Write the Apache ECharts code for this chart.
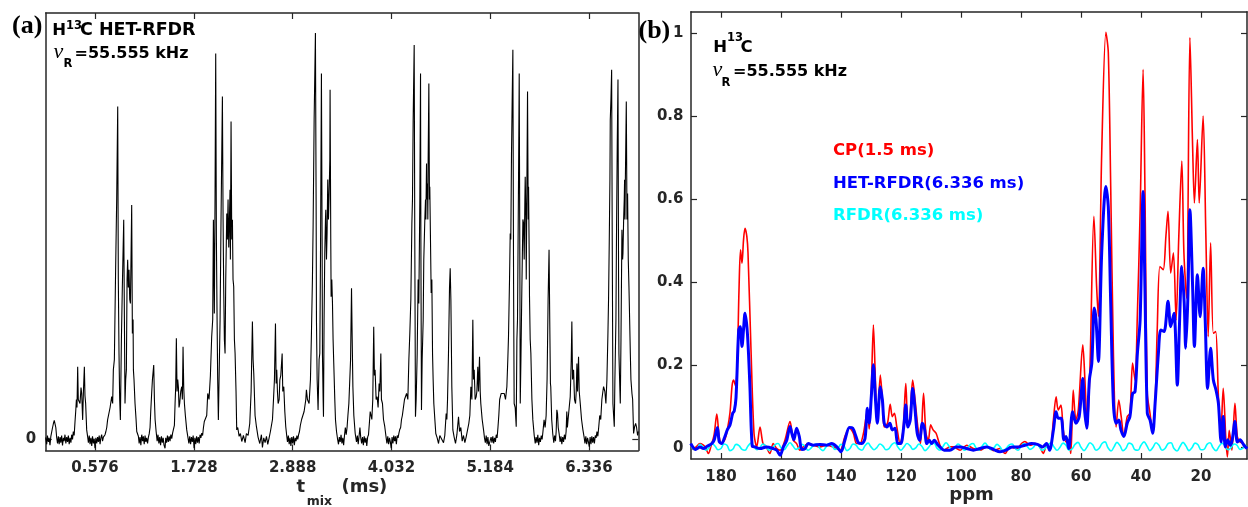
<!DOCTYPE html>
<html>
<head>
<meta charset="utf-8">
<script src="https://cdn.jsdelivr.net/npm/echarts@6/dist/echarts.min.js"></script>
<style>
html,body{margin:0;padding:0;background:#ffffff;}
#chart{width:1248px;height:507px;}
</style>
</head>
<body>
<div id="chart"></div>
<script>
// ---------- Panel (a): HET-RFDR mixing-time signal ----------
const tmixMs = [
0.000,0.012,0.020,0.031,0.040,0.050,0.060,0.070,0.080,0.090,
0.100,0.109,0.118,0.128,0.138,0.147,0.157,0.167,0.176,0.186,
0.196,0.206,0.215,0.225,0.235,0.245,0.255,0.264,0.274,0.284,
0.294,0.303,0.313,0.322,0.332,0.342,0.350,0.358,0.365,0.373,
0.380,0.400,0.412,0.420,0.431,0.440,0.451,0.458,0.466,0.478,
0.490,0.498,0.508,0.517,0.527,0.537,0.546,0.556,0.566,0.575,
0.585,0.595,0.605,0.614,0.624,0.634,0.643,0.653,0.663,0.673,
0.682,0.692,0.702,0.712,0.722,0.731,0.751,0.770,0.781,0.789,
0.801,0.816,0.828,0.840,0.847,0.855,0.863,0.871,0.883,0.894,
0.910,0.918,0.925,0.933,0.941,0.949,0.956,0.964,0.972,0.980,
0.988,0.995,1.003,1.011,1.019,1.023,1.030,1.042,1.054,1.062,
1.081,1.090,1.100,1.110,1.120,1.130,1.139,1.149,1.159,1.168,
1.178,1.188,1.198,1.207,1.217,1.225,1.237,1.245,1.260,1.268,
1.276,1.288,1.300,1.310,1.320,1.330,1.340,1.350,1.360,1.370,
1.380,1.392,1.400,1.410,1.420,1.430,1.440,1.450,1.460,1.470,
1.480,1.490,1.501,1.509,1.516,1.524,1.532,1.540,1.548,1.555,
1.563,1.575,1.587,1.594,1.602,1.610,1.618,1.629,1.645,1.660,
1.670,1.680,1.690,1.700,1.710,1.720,1.731,1.740,1.750,1.760,
1.770,1.780,1.790,1.800,1.810,1.820,1.830,1.840,1.850,1.878,
1.890,1.905,1.921,1.936,1.948,1.956,1.967,1.975,1.983,1.991,
1.999,2.006,2.014,2.022,2.034,2.045,2.061,2.069,2.076,2.084,
2.092,2.100,2.112,2.119,2.127,2.135,2.143,2.150,2.154,2.162,
2.170,2.178,2.185,2.193,2.201,2.209,2.220,2.228,2.240,2.256,
2.271,2.287,2.306,2.326,2.341,2.361,2.380,2.396,2.411,2.419,
2.427,2.442,2.458,2.477,2.497,2.516,2.528,2.543,2.559,2.575,
2.590,2.606,2.621,2.633,2.645,2.657,2.668,2.680,2.688,2.695,
2.703,2.711,2.723,2.731,2.742,2.758,2.765,2.777,2.789,2.800,
2.812,2.820,2.830,2.840,2.850,2.860,2.870,2.880,2.890,2.900,
2.910,2.920,2.930,2.940,2.950,2.960,2.970,2.985,3.014,3.034,
3.041,3.053,3.072,3.088,3.100,3.111,3.119,3.131,3.146,3.154,
3.158,3.166,3.177,3.189,3.197,3.205,3.216,3.224,3.228,3.236,
3.240,3.247,3.255,3.263,3.267,3.275,3.282,3.290,3.294,3.298,
3.306,3.314,3.317,3.325,3.329,3.337,3.345,3.352,3.360,3.372,
3.380,3.392,3.403,3.415,3.425,3.435,3.445,3.455,3.465,3.475,
3.485,3.495,3.505,3.515,3.525,3.536,3.548,3.556,3.567,3.575,
3.583,3.594,3.610,3.625,3.635,3.645,3.655,3.665,3.675,3.685,
3.695,3.705,3.715,3.725,3.735,3.745,3.755,3.765,3.775,3.785,
3.804,3.815,3.826,3.834,3.842,3.854,3.866,3.877,3.889,3.897,
3.909,3.916,3.928,3.940,3.955,3.970,3.980,3.990,4.000,4.010,
4.020,4.030,4.040,4.050,4.060,4.070,4.080,4.090,4.100,4.110,
4.120,4.130,4.140,4.150,4.160,4.185,4.209,4.224,4.236,4.247,
4.259,4.271,4.278,4.286,4.298,4.305,4.313,4.321,4.333,4.344,
4.352,4.364,4.372,4.376,4.383,4.391,4.403,4.410,4.422,4.430,
4.434,4.442,4.445,4.453,4.457,4.461,4.469,4.476,4.480,4.488,
4.496,4.504,4.512,4.519,4.527,4.539,4.550,4.566,4.582,4.597,
4.620,4.640,4.655,4.671,4.679,4.687,4.698,4.710,4.718,4.726,
4.737,4.749,4.764,4.780,4.796,4.815,4.827,4.842,4.858,4.873,
4.889,4.904,4.920,4.935,4.947,4.959,4.971,4.982,4.990,4.998,
5.009,5.021,5.029,5.040,5.048,5.060,5.068,5.075,5.091,5.107,
5.118,5.128,5.138,5.148,5.158,5.168,5.184,5.195,5.205,5.215,
5.225,5.235,5.245,5.255,5.265,5.275,5.285,5.295,5.313,5.332,
5.348,5.363,5.379,5.390,5.398,5.410,5.418,5.425,5.433,5.441,
5.449,5.457,5.464,5.476,5.488,5.496,5.503,5.515,5.523,5.531,
5.535,5.543,5.554,5.566,5.574,5.581,5.589,5.593,5.601,5.605,
5.613,5.620,5.628,5.632,5.640,5.643,5.651,5.659,5.671,5.682,
5.698,5.710,5.720,5.730,5.740,5.750,5.760,5.770,5.780,5.790,
5.800,5.813,5.825,5.837,5.848,5.852,5.860,5.871,5.879,5.887,
5.891,5.902,5.914,5.926,5.936,5.946,5.954,5.962,5.970,5.978,
5.990,6.000,6.010,6.020,6.030,6.040,6.050,6.060,6.070,6.078,
6.085,6.093,6.106,6.118,6.130,6.137,6.145,6.157,6.168,6.180,
6.188,6.196,6.203,6.215,6.223,6.235,6.250,6.266,6.280,6.290,
6.300,6.310,6.320,6.330,6.340,6.350,6.360,6.370,6.380,6.390,
6.400,6.410,6.420,6.430,6.440,6.450,6.462,6.474,6.487,6.499,
6.507,6.522,6.534,6.546,6.557,6.565,6.573,6.581,6.585,6.593,
6.601,6.608,6.616,6.624,6.632,6.639,6.651,6.659,6.667,6.675,
6.682,6.686,6.694,6.702,6.710,6.721,6.729,6.733,6.741,6.748,
6.752,6.756,6.760,6.764,6.772,6.780,6.787,6.795,6.803,6.811,
6.819,6.826,6.838,6.846,6.857,6.869,6.881,6.892,6.904,6.912
];
const hetSignal = [
0.005,-0.012,0.010,-0.006,0.004,-0.014,0.008,0.012,0.030,0.040,
0.048,0.052,0.030,0.005,-0.010,0.008,-0.012,0.006,-0.008,0.010,
-0.015,0.004,-0.004,0.012,-0.010,0.006,-0.006,0.010,-0.012,0.004,
-0.008,0.012,0.000,0.020,0.010,0.045,0.070,0.100,0.080,0.182,
0.100,0.090,0.130,0.115,0.049,0.120,0.182,0.110,0.090,0.024,
0.006,-0.008,0.010,-0.012,0.004,-0.016,0.008,-0.010,0.002,-0.022,
0.004,-0.010,0.006,-0.006,0.010,-0.012,0.004,0.012,-0.004,0.006,
0.004,0.012,0.020,0.030,0.049,0.049,0.080,0.107,0.090,0.174,
0.200,0.432,0.600,0.832,0.400,0.215,0.100,0.049,0.250,0.382,
0.549,0.300,0.090,0.150,0.174,0.400,0.449,0.380,0.424,0.350,
0.340,0.450,0.586,0.265,0.300,0.174,0.150,0.090,0.050,0.020,
0.008,-0.010,0.006,-0.014,0.012,-0.004,0.008,-0.012,0.010,-0.006,
0.004,-0.010,0.006,0.014,0.030,0.070,0.120,0.150,0.186,0.100,
0.050,0.020,-0.004,0.012,-0.010,0.006,-0.014,0.008,-0.008,0.004,
-0.014,-0.022,0.004,-0.008,0.010,-0.006,0.008,-0.004,0.012,0.002,
0.016,0.025,0.035,0.090,0.130,0.253,0.120,0.150,0.130,0.080,
0.090,0.120,0.132,0.100,0.232,0.130,0.090,0.060,0.024,0.004,
-0.010,0.008,-0.012,0.006,-0.006,0.010,-0.022,0.004,-0.012,0.008,
-0.008,0.006,-0.010,0.012,0.004,0.016,0.010,0.030,0.045,0.060,
0.115,0.100,0.160,0.257,0.300,0.549,0.315,0.600,0.965,0.500,
0.299,0.150,0.049,0.150,0.299,0.550,0.857,0.550,0.382,0.250,
0.215,0.400,0.565,0.500,0.600,0.480,0.550,0.624,0.450,0.795,
0.500,0.549,0.400,0.382,0.250,0.215,0.120,0.024,0.030,0.008,
0.015,-0.005,0.010,-0.008,0.015,0.010,0.040,0.120,0.295,0.200,
0.165,0.060,0.032,0.006,-0.010,0.012,-0.020,0.004,-0.008,0.008,
-0.012,0.004,0.020,0.035,0.050,0.100,0.150,0.290,0.140,0.174,
0.120,0.090,0.100,0.149,0.160,0.215,0.120,0.132,0.070,0.032,
0.008,-0.006,0.010,-0.012,0.004,-0.016,0.006,-0.010,0.008,-0.014,
0.004,-0.004,0.010,0.000,0.012,0.020,0.035,0.050,0.070,0.100,
0.124,0.100,0.090,0.150,0.270,0.400,0.532,0.799,1.016,0.600,
0.299,0.150,0.074,0.200,0.215,0.450,0.915,0.500,0.215,0.100,
0.057,0.300,0.465,0.550,0.574,0.450,0.515,0.650,0.649,0.550,
0.615,0.700,0.874,0.500,0.357,0.400,0.340,0.250,0.190,0.100,
0.049,0.020,0.003,-0.012,0.006,-0.006,0.012,-0.010,0.004,-0.014,
0.010,0.030,0.012,0.030,0.060,0.090,0.090,0.200,0.378,0.250,
0.132,0.060,0.015,-0.006,0.010,-0.012,0.008,0.030,0.004,-0.010,
0.006,-0.014,0.008,-0.008,0.004,-0.016,0.006,0.012,0.040,0.070,
0.050,0.100,0.282,0.160,0.174,0.100,0.107,0.080,0.140,0.120,
0.215,0.100,0.090,0.050,0.032,0.006,-0.010,0.008,-0.012,0.004,
-0.006,-0.022,0.006,-0.010,0.010,-0.004,0.008,-0.012,0.010,0.004,
0.016,0.025,0.030,0.050,0.060,0.100,0.115,0.100,0.200,0.265,
0.350,0.540,0.600,0.799,0.986,0.500,0.057,0.100,0.215,0.400,
0.340,0.600,0.915,0.500,0.074,0.200,0.299,0.450,0.549,0.600,
0.550,0.690,0.600,0.640,0.550,0.700,0.890,0.600,0.632,0.500,
0.366,0.400,0.215,0.150,0.090,0.050,0.015,0.004,-0.010,0.010,
0.008,-0.008,0.010,0.065,0.050,0.100,0.215,0.380,0.428,0.350,
0.132,0.024,0.006,-0.010,0.012,0.057,0.020,0.030,-0.004,0.010,
-0.008,0.006,0.010,0.040,0.060,0.132,0.100,0.299,0.150,0.174,
0.100,0.107,0.120,0.182,0.120,0.207,0.120,0.090,0.050,0.024,
0.004,-0.008,0.010,-0.012,0.006,-0.016,-0.018,0.006,-0.008,0.008,
-0.010,0.004,-0.006,0.012,0.004,0.030,0.060,0.100,0.115,0.115,
0.115,0.100,0.132,0.200,0.257,0.400,0.515,0.500,0.715,0.850,
0.974,0.400,0.090,0.080,0.032,0.250,0.299,0.650,0.915,0.400,
0.090,0.200,0.382,0.550,0.540,0.450,0.600,0.657,0.550,0.400,
0.650,0.870,0.550,0.632,0.450,0.357,0.250,0.215,0.100,0.049,
0.010,-0.010,0.006,-0.008,0.012,-0.014,0.004,-0.006,0.010,0.000,
0.020,0.049,0.030,0.060,0.150,0.215,0.350,0.474,0.300,0.140,
0.132,0.050,0.015,-0.008,0.010,-0.004,0.020,0.074,0.065,0.030,
0.012,-0.006,0.008,-0.012,0.006,-0.006,0.012,0.000,0.020,0.070,
0.030,0.050,0.080,0.107,0.200,0.295,0.150,0.174,0.100,0.090,
0.120,0.190,0.120,0.207,0.120,0.090,0.050,0.024,0.006,-0.010,
0.008,-0.012,0.004,-0.006,-0.018,0.006,-0.012,0.008,-0.008,0.006,
-0.010,0.010,0.004,0.020,0.008,0.030,0.060,0.050,0.100,0.120,
0.132,0.120,0.090,0.150,0.257,0.350,0.490,0.650,0.799,0.850,
0.924,0.500,0.090,0.060,0.032,0.150,0.299,0.550,0.750,0.900,
0.400,0.215,0.150,0.090,0.250,0.524,0.450,0.465,0.550,0.600,
0.649,0.550,0.632,0.700,0.845,0.550,0.615,0.450,0.382,0.300,
0.215,0.150,0.115,0.100,0.015,0.032,0.040,0.030,0.010,0.020
];
const tmixTicks = [0.576, 1.728, 2.880, 4.032, 5.184, 6.336];
const tmixTickLabels = ['0.576', '1.728', '2.888', '4.032', '5.184', '6.336'];

// ---------- Panel (b): 13C spectra ----------
const cpPpm = [
190.1,189.2,188.3,187.0,185.3,184.2,183.4,182.3,181.4,180.6,
179.8,178.7,177.9,177.0,176.3,175.8,175.2,174.6,174.0,173.5,
173.0,172.5,172.0,171.4,171.0,170.0,169.0,168.1,167.0,166.0,
165.0,163.7,162.6,161.4,160.3,158.7,157.0,155.9,154.8,153.7,
152.6,150.9,149.2,147.0,144.8,142.6,140.3,138.7,137.2,135.9,
134.8,133.7,132.5,131.2,130.6,130.0,129.2,128.5,127.9,126.9,
126.2,125.6,124.5,123.6,122.9,122.2,121.4,120.3,119.3,118.4,
117.7,117.1,116.1,115.3,114.4,113.5,112.5,111.7,110.9,110.1,
109.3,108.3,107.0,105.6,104.8,103.7,102.6,100.3,98.1,95.9,
93.7,91.4,89.2,87.0,85.3,83.7,81.4,79.8,78.7,77.0,
75.3,73.7,72.6,71.4,70.3,69.2,68.3,67.6,66.7,65.9,
65.0,64.2,63.4,62.6,61.7,60.9,59.4,58.7,57.9,57.0,
55.7,54.8,54.2,53.1,51.7,50.9,50.1,49.2,48.3,47.4,
46.6,45.7,44.6,43.7,42.8,42.0,41.2,40.3,39.3,38.7,
37.9,37.0,36.1,35.3,34.6,33.7,32.6,31.7,31.0,30.1,
29.2,28.3,27.4,26.4,25.7,24.8,23.7,22.8,22.2,21.2,
20.6,19.3,18.4,17.6,16.8,15.9,15.1,14.2,13.4,12.6,
11.7,11.2,10.6,9.7,8.7,7.9,7.0,5.9,4.8
];
const cpInt = [
0.007,-0.004,0.002,0.010,0.002,-0.014,0.002,0.031,0.081,0.027,
0.010,0.020,0.043,0.085,0.150,0.163,0.150,0.200,0.380,0.477,
0.445,0.500,0.529,0.510,0.470,0.236,0.035,0.002,0.050,0.010,
0.003,-0.014,0.010,-0.002,-0.006,0.018,0.063,0.018,0.010,-0.006,
0.002,0.010,0.006,0.002,0.006,0.002,-0.006,0.027,0.047,0.035,
0.010,0.010,0.035,0.090,0.045,0.115,0.296,0.155,0.059,0.175,
0.115,0.050,0.059,0.105,0.075,0.083,0.050,0.010,0.043,0.155,
0.059,0.067,0.163,0.115,0.050,0.010,0.131,0.035,0.018,0.055,
0.043,0.035,0.006,-0.006,-0.002,0.002,0.002,-0.006,0.006,-0.002,
-0.006,0.002,-0.007,-0.002,-0.014,0.002,-0.002,0.010,0.015,0.006,
0.010,0.002,-0.014,0.006,-0.004,0.067,0.123,0.091,0.103,0.042,
0.014,0.018,-0.014,0.139,0.067,0.091,0.248,0.164,0.047,0.196,
0.558,0.389,0.316,0.711,1.002,0.953,0.630,0.228,0.050,0.115,
0.075,0.027,0.075,0.083,0.204,0.163,0.325,0.566,0.912,0.630,
0.131,0.083,0.035,0.107,0.284,0.437,0.429,0.510,0.570,0.421,
0.470,0.308,0.510,0.691,0.470,0.360,0.989,0.727,0.590,0.743,
0.590,0.800,0.518,0.268,0.494,0.276,0.280,0.123,0.035,0.143,
0.019,-0.022,0.042,-0.006,0.107,0.027,0.014,0.010,-0.002
];
const hetPpm = [
190.1,188.5,187.0,185.9,184.5,183.1,182.3,181.2,180.6,179.8,
178.7,177.9,177.0,176.1,175.6,175.0,174.1,173.6,173.0,172.5,
172.0,171.2,170.4,169.6,168.7,167.0,164.8,162.6,161.4,160.3,
159.2,158.1,157.0,156.4,155.7,154.8,153.9,153.1,152.0,150.9,
149.2,147.0,144.8,143.1,141.4,140.0,138.7,137.2,136.1,135.0,
134.2,133.1,132.0,131.2,130.6,129.9,129.2,128.5,127.9,126.9,
126.2,125.6,124.7,123.7,122.9,122.0,121.1,120.1,119.1,118.4,
117.7,116.9,116.1,115.3,114.6,113.8,112.9,112.2,111.4,110.6,
109.8,108.9,107.6,105.6,103.7,101.7,100.3,98.1,95.9,93.7,
91.4,89.2,87.0,85.0,83.0,80.8,78.7,76.5,74.5,72.8,
71.5,70.5,69.2,68.3,67.6,66.6,65.7,65.0,64.1,62.8,
61.7,60.6,59.4,58.9,58.1,57.2,56.4,55.6,55.0,54.2,
53.1,51.7,50.9,50.1,49.2,48.3,47.4,46.7,45.7,44.6,
43.7,42.8,42.0,41.2,40.3,39.3,38.7,37.9,37.0,36.1,
35.3,34.2,33.4,32.3,31.0,30.1,29.0,27.9,27.2,26.4,
25.6,25.1,24.4,23.7,22.8,22.2,21.2,20.3,19.3,18.6,
17.8,16.8,15.9,15.0,14.2,13.3,12.6,11.9,11.1,10.3,
9.6,8.7,7.9,7.0,5.7,4.6
];
const hetInt = [
0.010,-0.004,0.002,-0.002,0.004,0.010,0.018,0.049,0.015,0.010,
0.027,0.043,0.055,0.083,0.088,0.120,0.284,0.292,0.244,0.284,
0.324,0.276,0.155,0.004,0.002,-0.002,0.002,-0.002,-0.006,-0.018,
0.002,0.018,0.051,0.035,0.019,0.047,0.027,-0.004,-0.002,0.010,
0.006,0.008,0.006,0.010,0.002,-0.010,0.018,0.049,0.047,0.027,
0.012,0.010,0.022,0.095,0.059,0.123,0.200,0.115,0.059,0.147,
0.115,0.059,0.050,0.059,0.043,0.047,0.010,0.010,0.050,0.103,
0.050,0.067,0.143,0.090,0.035,0.018,0.059,0.047,0.010,0.018,
0.010,0.018,0.006,-0.006,-0.006,0.002,0.002,-0.002,-0.006,-0.002,
0.002,-0.004,-0.010,-0.006,0.002,0.002,0.006,0.010,0.008,0.002,
0.010,-0.006,0.043,0.087,0.071,0.071,0.019,0.027,-0.002,0.087,
0.059,0.075,0.167,0.099,0.047,0.164,0.204,0.337,0.309,0.208,
0.471,0.630,0.581,0.348,0.107,0.059,0.067,0.043,0.027,0.059,
0.075,0.131,0.135,0.228,0.308,0.618,0.389,0.083,0.067,0.035,
0.107,0.228,0.284,0.280,0.353,0.292,0.324,0.151,0.292,0.437,
0.349,0.240,0.357,0.574,0.389,0.244,0.417,0.316,0.433,0.308,
0.143,0.240,0.164,0.139,0.107,0.014,0.075,0.002,0.019,0.006,
0.019,0.063,0.014,0.019,0.006,-0.002
];
const rfdrPpm = [
190,189,188,187,186,185,184,183,182,181,
180,179,178,177,176,175,174,173,172,171,
170,169,168,167,166,165,164,163,162,161,
160,159,158,157,156,155,154,153,152,151,
150,149,148,147,146,145,144,143,142,141,
140,139,138,137,136,135,134,133,132,131,
130,129,128,127,126,125,124,123,122,121,
120,119,118,117,116,115,114,113,112,111,
110,109,108,107,106,105,104,103,102,101,
100,99,98,97,96,95,94,93,92,91,
90,89,88,87,86,85,84,83,82,81,
80,79,78,77,76,75,74,73,72,71,
70,69,68,67,66,65,64,63,62,61,
60,59,58,57,56,55,54,53,52,51,
50,49,48,47,46,45,44,43,42,41,
40,39,38,37,36,35,34,33,32,31,
30,29,28,27,26,25,24,23,22,21,
20,19,18,17,16,15,14,13,12,11,
10,9,8,7,6,5
];
const rfdrInt = [
0.006,-0.004,-0.002,0.008,0.002,-0.006,0.000,0.010,0.004,-0.005,
-0.002,0.009,0.006,-0.007,-0.003,0.008,0.005,-0.004,-0.006,0.004,
0.011,0.002,-0.005,0.001,0.009,0.003,-0.006,-0.002,0.007,0.010,
0.000,-0.005,0.004,0.012,0.004,-0.004,0.000,0.008,0.003,-0.006,
-0.001,0.007,0.009,-0.002,-0.007,0.002,0.010,0.005,-0.004,-0.001,
0.008,0.004,-0.007,-0.002,0.009,0.006,-0.003,-0.006,0.005,0.011,
0.002,-0.005,0.001,0.009,0.004,-0.005,-0.002,0.008,0.012,0.001,
-0.006,0.002,0.010,0.005,-0.004,0.000,0.009,0.003,-0.007,-0.001,
0.008,0.011,-0.001,-0.006,0.003,0.012,0.004,-0.005,0.000,0.009,
0.004,-0.006,-0.002,0.007,0.010,0.000,-0.006,0.003,0.011,0.003,
-0.005,0.000,0.008,0.002,-0.007,-0.002,0.006,0.009,-0.001,-0.006,
0.003,0.010,0.004,-0.004,0.000,0.008,0.003,-0.006,-0.002,0.007,
0.012,0.002,-0.006,0.001,0.011,0.006,-0.006,-0.003,0.008,0.013,
0.001,-0.007,0.002,0.012,0.006,-0.006,-0.002,0.010,0.014,0.000,
-0.008,0.002,0.013,0.005,-0.007,-0.001,0.011,0.008,-0.005,-0.006,
0.006,0.014,0.004,-0.007,0.001,0.012,0.006,-0.006,-0.002,0.010,
0.012,-0.002,-0.008,0.003,0.013,0.004,-0.007,0.000,0.011,0.007,
-0.005,-0.004,0.008,0.012,0.000,-0.007,0.003,0.011,0.004,-0.005,
0.000,0.009,0.006,-0.004,-0.001,0.007
];
const ppmTicks = [20, 40, 60, 80, 100, 120, 140, 160, 180];
const intensityTicks = [0, 0.2, 0.4, 0.6, 0.8, 1];
const seriesNames = ['CP(1.5 ms)', 'HET-RFDR(6.336 ms)', 'RFDR(6.336 ms)'];
const seriesColors = ['#ff0000', '#0000ff', '#00ffff'];

// ---------- build ----------
const zip = (xs, ys) => xs.map((x, i) => [x, ys[i]]);
const FONT = 'DejaVu Sans';
const INK = '#262626';
const lineCfg = { show: true, onZero: false, lineStyle: { color: INK, width: 1.5 } };
const tickCfg = (vals) => ({ show: true, inside: true, length: 6, customValues: vals, lineStyle: { color: INK, width: 1.2 } });
const labelBase = { fontFamily: FONT, fontWeight: 'bold', fontSize: 15, color: INK };

function txt(x, base, text, size, o) {
  o = o || {};
  const fam = o.family || FONT;
  const k = fam.indexOf('Serif') >= 0 ? 0.338 : 0.346;
  return {
    type: 'text', x: x, y: base - k * size, silent: true, z: 100,
    style: {
      text: text, fill: o.color || '#000', fontSize: size, fontFamily: fam,
      fontWeight: o.weight || 'bold', fontStyle: o.italic ? 'italic' : 'normal',
      align: o.align || 'left', verticalAlign: 'middle'
    }
  };
}

const chart = echarts.init(document.getElementById('chart'), null, { renderer: 'canvas', width: 1248, height: 507 });

const option = {
  backgroundColor: '#ffffff',
  animation: false,
  grid: [
    { left: 45.7, right: 609.7, top: 13, bottom: 56.5 },
    { left: 691, right: 1, top: 11.7, bottom: 48 }
  ],
  xAxis: [
    { gridIndex: 0, type: 'value', position: 'bottom', min: 0, max: 6.912,
      axisLine: lineCfg, axisTick: tickCfg(tmixTicks), splitLine: { show: false },
      axisLabel: Object.assign({}, labelBase, { margin: 10, customValues: tmixTicks,
        formatter: function (v) {
          let best = 0;
          tmixTicks.forEach(function (t, i) { if (Math.abs(t - v) < Math.abs(tmixTicks[best] - v)) best = i; });
          return tmixTickLabels[best];
        } }) },
    { gridIndex: 0, type: 'value', position: 'top', min: 0, max: 6.912,
      axisLine: lineCfg, axisTick: tickCfg(tmixTicks), splitLine: { show: false }, axisLabel: { show: false } },
    { gridIndex: 1, type: 'value', position: 'bottom', inverse: true, min: 4.67, max: 190,
      axisLine: lineCfg, axisTick: tickCfg(ppmTicks), splitLine: { show: false },
      axisLabel: Object.assign({}, labelBase, { margin: 10.5, customValues: ppmTicks }) },
    { gridIndex: 1, type: 'value', position: 'top', inverse: true, min: 4.67, max: 190,
      axisLine: lineCfg, axisTick: tickCfg(ppmTicks), splitLine: { show: false }, axisLabel: { show: false } }
  ],
  yAxis: [
    { gridIndex: 0, type: 'value', position: 'left', min: -0.0275, max: 1.066,
      axisLine: lineCfg, axisTick: tickCfg([0]), splitLine: { show: false },
      axisLabel: Object.assign({}, labelBase, { margin: 9.5, customValues: [0] }) },
    { gridIndex: 0, type: 'value', position: 'right', min: -0.0275, max: 1.066,
      axisLine: lineCfg, axisTick: tickCfg([0]), splitLine: { show: false }, axisLabel: { show: false } },
    { gridIndex: 1, type: 'value', position: 'left', min: -0.0272, max: 1.0514,
      axisLine: lineCfg, axisTick: tickCfg(intensityTicks), splitLine: { show: false },
      axisLabel: Object.assign({}, labelBase, { margin: 7.5, customValues: intensityTicks }) },
    { gridIndex: 1, type: 'value', position: 'right', min: -0.0272, max: 1.0514,
      axisLine: lineCfg, axisTick: tickCfg(intensityTicks), splitLine: { show: false }, axisLabel: { show: false } }
  ],
  legend: {
    orient: 'vertical', left: 823, top: 137.5, icon: 'none', itemWidth: 0, itemHeight: 16, itemGap: 15.5,
    selectedMode: false,
    textStyle: { fontFamily: FONT, fontWeight: 'bold', fontSize: 16.5 },
    data: seriesNames.map(function (n, i) { return { name: n, textStyle: { color: seriesColors[i] } }; })
  },
  series: [
    { name: 'HET-RFDR build-up', type: 'line', xAxisIndex: 0, yAxisIndex: 0,
      data: zip(tmixMs, hetSignal), showSymbol: false, symbol: 'none', silent: true,
      lineStyle: { color: '#000000', width: 1.1 } },
    { name: seriesNames[0], type: 'line', xAxisIndex: 2, yAxisIndex: 2, color: seriesColors[0],
      data: zip(cpPpm, cpInt), showSymbol: false, symbol: 'none', smooth: 0.3, silent: true,
      lineStyle: { color: seriesColors[0], width: 1.6 } },
    { name: seriesNames[2], type: 'line', xAxisIndex: 2, yAxisIndex: 2, color: seriesColors[2],
      data: zip(rfdrPpm, rfdrInt), showSymbol: false, symbol: 'none', smooth: 0.4, silent: true,
      lineStyle: { color: seriesColors[2], width: 1.6 } },
    { name: seriesNames[1], type: 'line', xAxisIndex: 2, yAxisIndex: 2, color: seriesColors[1],
      data: zip(hetPpm, hetInt), showSymbol: false, symbol: 'none', smooth: 0.3, silent: true,
      lineStyle: { color: seriesColors[1], width: 3 } }
  ],
  graphic: [
    // panel (a) annotations
    txt(12, 35, '(a)', 26, { family: 'Liberation Serif' }),
    txt(52.3, 36.7, 'H', 16.5),
    txt(66, 30, '13', 11.5),
    txt(80, 36.7, 'C HET-RFDR', 17.5),
    txt(53.5, 59.3, 'ν', 22, { family: 'Liberation Serif', weight: 'normal', italic: true }),
    txt(63.5, 68, 'R', 11.5),
    txt(74.5, 59.3, '=55.555 kHz', 16),
    // panel (a) axis title
    txt(296.6, 494, 't', 18, { color: INK }),
    txt(306.8, 506, 'mix', 12.5, { color: INK }),
    txt(341.4, 494, '(ms)', 18, { color: INK }),
    // panel (b) annotations
    txt(638.5, 40, '(b)', 26, { family: 'Liberation Serif' }),
    txt(713.3, 53.3, 'H', 16.5),
    txt(727, 41.7, '13', 11.5),
    txt(740.5, 53.3, 'C', 16.5),
    txt(712.5, 77.3, 'ν', 22, { family: 'Liberation Serif', weight: 'normal', italic: true }),
    txt(721.5, 86.7, 'R', 11.5),
    txt(733, 77.3, '=55.555 kHz', 16),
    // panel (b) axis title
    txt(971.6, 501.7, 'ppm', 18, { color: INK, align: 'center' })
  ]
};
chart.setOption(option);
</script>
</body>
</html>
